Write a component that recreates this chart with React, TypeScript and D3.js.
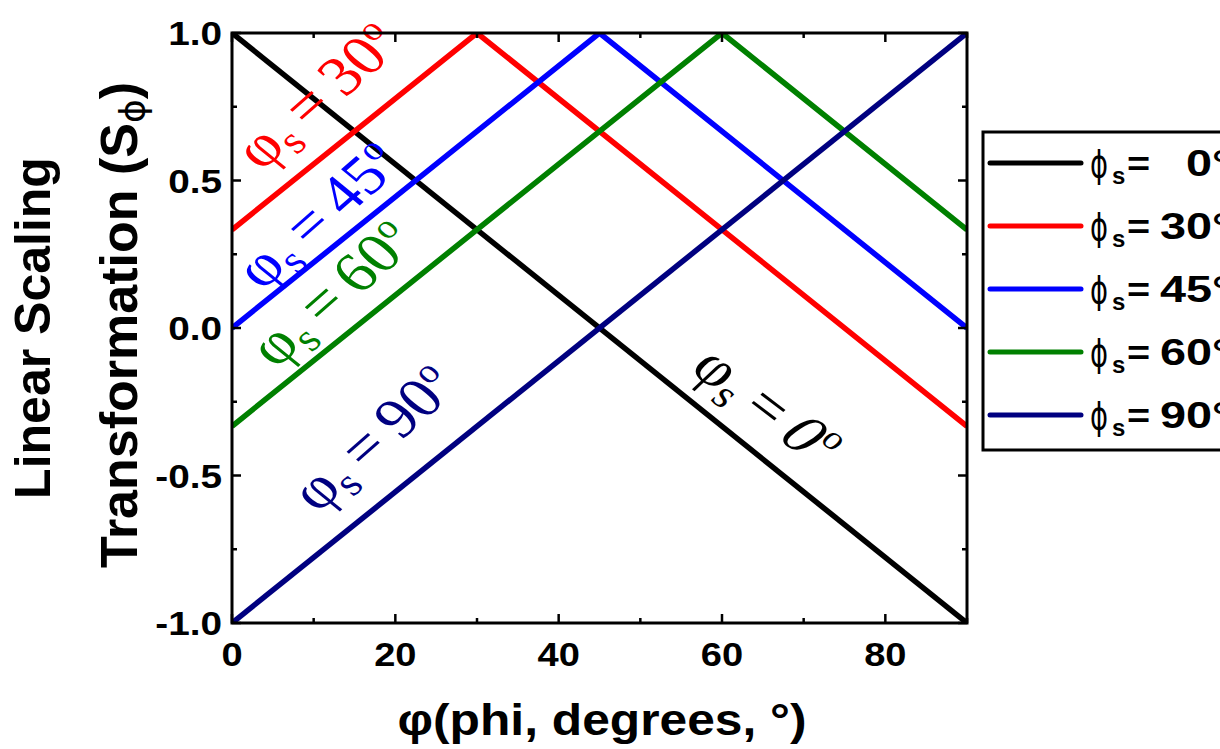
import React, { useEffect } from "react";
import * as d3 from "d3";

const W = 1220;
const H = 749;

// phi_s values (degrees) and the series (phi, S_phi) vertices
const seriesNames = ["0", "30", "45", "60", "90"];
const s0: [number, number][] = [[0, 1], [90, -1]];
const s30: [number, number][] = [[0, 0.333], [30, 1], [90, -0.333]];
const s45: [number, number][] = [[0, 0], [45, 1], [90, 0]];
const s60: [number, number][] = [[0, -0.333], [60, 1], [90, 0.333]];
const s90: [number, number][] = [[0, -1], [90, 1]];
const seriesData = [s0, s30, s45, s60, s90];
const seriesColors = ["#000000", "#ff0000", "#0000ff", "#008000", "#000080"];

const xTicks = [0, 20, 40, 60, 80];
const xMinorTicks = [10, 30, 50, 70, 90];
const yTicks = [-1.0, -0.5, 0.0, 0.5, 1.0];
const yMinorTicks = [-0.75, -0.25, 0.25, 0.75];

// in-plot annotations: which series, anchor in data coords, rotation
const annSeries = [1, 2, 3, 4, 0];
const annPhi = [3.6, 3.7, 5.4, 10.5, 55.9];
const annS = [0.53, 0.125, -0.14, -0.63, -0.144];
const annAngle = [-46, -46, -46, -46, 42];

const SANS = "'Liberation Sans', Arial, Helvetica, sans-serif";
const SERIF = "'Liberation Serif', 'Times New Roman', serif";

function Ann({ x, y, angle, color, num, italic }: any) {
  const F = 56;
  return (
    <g transform={`translate(${x},${y}) scale(1.18,1) rotate(${angle})`}>
      <text fontFamily={SERIF} fontSize={F} fill={color}>
        <tspan>φ</tspan>
        <tspan fontSize={F * 0.7} dy={F * 0.18}>s</tspan>
        <tspan dx={F * 0.2} dy={-F * 0.18}>=</tspan>
        <tspan dx={F * 0.2} fontStyle={italic ? "italic" : "normal"}>{num}</tspan>
        <tspan fontSize={F * 0.6} dy={-F * 0.38}>o</tspan>
      </text>
    </g>
  );
}

export default function App() {
  useEffect(() => {
    document.body.style.margin = "0";
    document.body.style.overflow = "hidden";
  }, []);

  const x = d3.scaleLinear().domain([0, 90]).range([232, 967]);
  const y = d3.scaleLinear().domain([-1, 1]).range([623, 33]);
  const line = d3
    .line<[number, number]>()
    .x((d) => x(d[0]))
    .y((d) => y(d[1]));
  const fmt = (v: number) => d3.format(".1f")(v).replace("−", "-");

  const x0 = x(0), x1 = x(90), y0 = y(-1), y1 = y(1);
  const major = 9, minor = 5;

  const legX = 983, legY = 132, legRow0 = 163, legStep = 63;

  return (
    <svg
      width={W}
      height={H}
      style={{ position: "fixed", left: 0, top: 0, background: "#fff" }}
      xmlns="http://www.w3.org/2000/svg"
    >
      <rect x={0} y={0} width={W} height={H} fill="#fff" />
      <defs>
        <clipPath id="plotclip">
          <rect x={x0} y={y1} width={x1 - x0} height={y0 - y1} />
        </clipPath>
      </defs>

      {/* series lines */}
      <g clipPath="url(#plotclip)">
        {seriesData.map((d, i) => (
          <path
            key={i}
            d={line(d) || ""}
            fill="none"
            stroke={seriesColors[i]}
            strokeWidth={5.5}
            strokeLinejoin="miter"
          />
        ))}
      </g>

      {/* annotations */}
      {annSeries.map((si, k) => (
        <Ann
          key={k}
          x={x(annPhi[k])}
          y={y(annS[k])}
          angle={annAngle[k]}
          color={seriesColors[si]}
          num={seriesNames[si]}
          italic={si === 0}
        />
      ))}

      {/* frame */}
      <rect x={x0} y={y1} width={x1 - x0} height={y0 - y1} fill="none" stroke="#000" strokeWidth={3} />

      {/* ticks */}
      <g stroke="#000" strokeWidth={2.5}>
        {xTicks.map((t) => (
          <g key={"xt" + t}>
            <line x1={x(t)} x2={x(t)} y1={y0} y2={y0 - major} />
            <line x1={x(t)} x2={x(t)} y1={y1} y2={y1 + major} />
          </g>
        ))}
        {xMinorTicks.map((t) => (
          <g key={"xm" + t}>
            <line x1={x(t)} x2={x(t)} y1={y0} y2={y0 - minor} />
            <line x1={x(t)} x2={x(t)} y1={y1} y2={y1 + minor} />
          </g>
        ))}
        {yTicks.map((t) => (
          <g key={"yt" + t}>
            <line x1={x0} x2={x0 + major} y1={y(t)} y2={y(t)} />
            <line x1={x1} x2={x1 - major} y1={y(t)} y2={y(t)} />
          </g>
        ))}
        {yMinorTicks.map((t) => (
          <g key={"ym" + t}>
            <line x1={x0} x2={x0 + minor} y1={y(t)} y2={y(t)} />
            <line x1={x1} x2={x1 - minor} y1={y(t)} y2={y(t)} />
          </g>
        ))}
      </g>

      {/* tick labels */}
      <g fontFamily={SANS} fontWeight="bold" fontSize={34} fill="#000">
        {xTicks.map((t) => (
          <g key={"xl" + t} transform={`translate(${x(t)},666) scale(1.12,1)`}>
            <text textAnchor="middle">{t}</text>
          </g>
        ))}
        {yTicks.map((t) => (
          <g key={"yl" + t} transform={`translate(222,${y(t) + 12}) scale(1.14,1)`}>
            <text textAnchor="end">{fmt(t)}</text>
          </g>
        ))}
      </g>

      {/* x title */}
      <g transform="translate(602,735) scale(1.13,1)">
        <text textAnchor="middle" fontFamily={SANS} fontWeight="bold" fontSize={44} fill="#000">
          φ(phi, degrees, °)
        </text>
      </g>

      {/* y title */}
      <text
        transform="translate(50,328) rotate(-90)"
        textAnchor="middle"
        fontFamily={SANS}
        fontWeight="bold"
        fontSize={50}
        fill="#000"
      >
        Linear Scaling
      </text>
      <text
        transform="translate(137,325) rotate(-90)"
        textAnchor="middle"
        fontFamily={SANS}
        fontWeight="bold"
        fontSize={52}
        fill="#000"
      >
        <tspan>Transformation (S</tspan>
        <tspan fontFamily="'DejaVu Sans', sans-serif" fontWeight="normal" fontSize={36} dy={8}>ϕ</tspan>
        <tspan dy={-8}>)</tspan>
      </text>

      {/* legend */}
      <rect x={legX} y={legY} width={270} height={318} fill="#fff" stroke="#000" strokeWidth={3} />
      {seriesNames.map((n, i) => {
        const ry = legRow0 + i * legStep;
        return (
          <g key={"lg" + i}>
            <line x1={990} x2={1081} y1={ry} y2={ry} stroke={seriesColors[i]} strokeWidth={5} strokeLinecap="round" />
            <g transform={`translate(1090,${ry + 14}) scale(0.72,1)`}>
              <text fontFamily="'DejaVu Sans', sans-serif" fontSize={38} fill="#000">ϕ</text>
            </g>
            <text x={1112} y={ry + 21} fontFamily={SANS} fontWeight="bold" fontSize={24} fill="#000">s</text>
            <g transform={`translate(1127,${ry + 13}) scale(1.1,1)`}>
              <text fontFamily={SANS} fontWeight="bold" fontSize={36} fill="#000">=</text>
            </g>
            <g transform={`translate(1212,${ry + 13}) scale(1.3,1)`}>
              <text textAnchor="end" fontFamily={SANS} fontWeight="bold" fontSize={36} fill="#000">{n}</text>
              <text x={0} fontFamily={SANS} fontWeight="bold" fontSize={36} fill="#000">°</text>
            </g>
          </g>
        );
      })}
    </svg>
  );
}
